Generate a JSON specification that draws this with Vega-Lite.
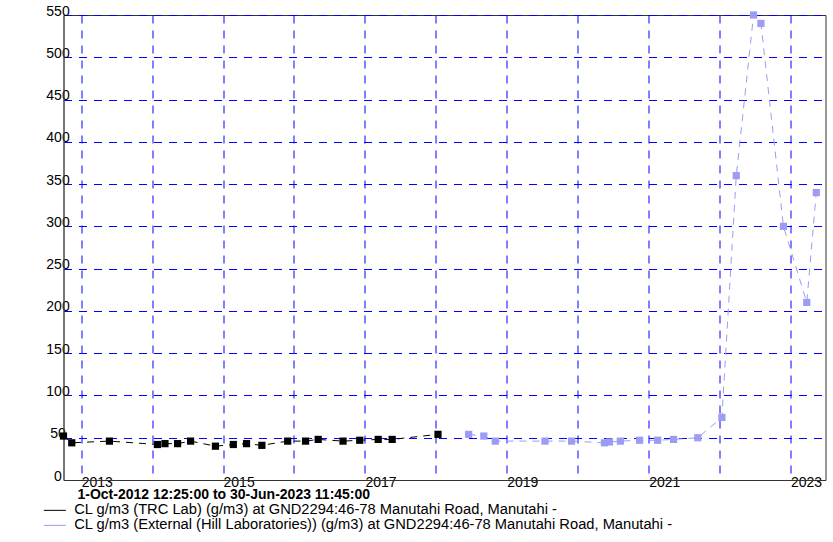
{
  "$schema": "https://vega.github.io/schema/vega-lite/v6.json",
  "width": 762,
  "height": 465,
  "autosize": {"type": "none"},
  "padding": {"left": 63.5, "top": 15, "right": 7.5, "bottom": 62},
  "background": "white",
  "config": {
    "font": "Liberation Sans",
    "view": {"stroke": "#333333", "strokeWidth": 1},
    "axis": {
      "gridColor": "#0000ff",
      "gridDash": [8, 7],
      "gridWidth": 1,
      "gridOpacity": 1,
      "ticks": false,
      "tickSize": 0,
      "domainColor": "#555555",
      "labelColor": "#000000",
      "labelFont": "Liberation Sans",
      "labelFontSize": 14
    }
  },
  "datasets": {
    "obs": [
      {"series": "CL g/m3 (TRC Lab) (g/m3) at GND2294:46-78 Manutahi Road, Manutahi -", "date": "2012-10-01T12:25:00", "value": 52},
      {"series": "CL g/m3 (TRC Lab) (g/m3) at GND2294:46-78 Manutahi Road, Manutahi -", "date": "2012-11-13", "value": 44},
      {"series": "CL g/m3 (TRC Lab) (g/m3) at GND2294:46-78 Manutahi Road, Manutahi -", "date": "2013-05-26", "value": 46},
      {"series": "CL g/m3 (TRC Lab) (g/m3) at GND2294:46-78 Manutahi Road, Manutahi -", "date": "2014-01-28", "value": 42},
      {"series": "CL g/m3 (TRC Lab) (g/m3) at GND2294:46-78 Manutahi Road, Manutahi -", "date": "2014-03-08", "value": 43},
      {"series": "CL g/m3 (TRC Lab) (g/m3) at GND2294:46-78 Manutahi Road, Manutahi -", "date": "2014-05-12", "value": 43},
      {"series": "CL g/m3 (TRC Lab) (g/m3) at GND2294:46-78 Manutahi Road, Manutahi -", "date": "2014-07-18", "value": 46},
      {"series": "CL g/m3 (TRC Lab) (g/m3) at GND2294:46-78 Manutahi Road, Manutahi -", "date": "2014-11-23", "value": 40},
      {"series": "CL g/m3 (TRC Lab) (g/m3) at GND2294:46-78 Manutahi Road, Manutahi -", "date": "2015-02-23", "value": 42},
      {"series": "CL g/m3 (TRC Lab) (g/m3) at GND2294:46-78 Manutahi Road, Manutahi -", "date": "2015-05-02", "value": 43},
      {"series": "CL g/m3 (TRC Lab) (g/m3) at GND2294:46-78 Manutahi Road, Manutahi -", "date": "2015-07-20", "value": 41},
      {"series": "CL g/m3 (TRC Lab) (g/m3) at GND2294:46-78 Manutahi Road, Manutahi -", "date": "2015-11-30", "value": 46},
      {"series": "CL g/m3 (TRC Lab) (g/m3) at GND2294:46-78 Manutahi Road, Manutahi -", "date": "2016-03-01", "value": 46},
      {"series": "CL g/m3 (TRC Lab) (g/m3) at GND2294:46-78 Manutahi Road, Manutahi -", "date": "2016-05-05", "value": 48},
      {"series": "CL g/m3 (TRC Lab) (g/m3) at GND2294:46-78 Manutahi Road, Manutahi -", "date": "2016-09-10", "value": 46},
      {"series": "CL g/m3 (TRC Lab) (g/m3) at GND2294:46-78 Manutahi Road, Manutahi -", "date": "2016-12-05", "value": 47},
      {"series": "CL g/m3 (TRC Lab) (g/m3) at GND2294:46-78 Manutahi Road, Manutahi -", "date": "2017-03-10", "value": 48},
      {"series": "CL g/m3 (TRC Lab) (g/m3) at GND2294:46-78 Manutahi Road, Manutahi -", "date": "2017-05-21", "value": 48},
      {"series": "CL g/m3 (TRC Lab) (g/m3) at GND2294:46-78 Manutahi Road, Manutahi -", "date": "2018-01-12", "value": 54},
      {"series": "CL g/m3 (External (Hill Laboratories)) (g/m3) at GND2294:46-78 Manutahi Road, Manutahi -", "date": "2018-06-19", "value": 54},
      {"series": "CL g/m3 (External (Hill Laboratories)) (g/m3) at GND2294:46-78 Manutahi Road, Manutahi -", "date": "2018-09-05", "value": 52},
      {"series": "CL g/m3 (External (Hill Laboratories)) (g/m3) at GND2294:46-78 Manutahi Road, Manutahi -", "date": "2018-11-03", "value": 46},
      {"series": "CL g/m3 (External (Hill Laboratories)) (g/m3) at GND2294:46-78 Manutahi Road, Manutahi -", "date": "2019-07-17", "value": 46},
      {"series": "CL g/m3 (External (Hill Laboratories)) (g/m3) at GND2294:46-78 Manutahi Road, Manutahi -", "date": "2019-12-01", "value": 46},
      {"series": "CL g/m3 (External (Hill Laboratories)) (g/m3) at GND2294:46-78 Manutahi Road, Manutahi -", "date": "2020-05-18", "value": 44},
      {"series": "CL g/m3 (External (Hill Laboratories)) (g/m3) at GND2294:46-78 Manutahi Road, Manutahi -", "date": "2020-06-13", "value": 45},
      {"series": "CL g/m3 (External (Hill Laboratories)) (g/m3) at GND2294:46-78 Manutahi Road, Manutahi -", "date": "2020-08-08", "value": 46},
      {"series": "CL g/m3 (External (Hill Laboratories)) (g/m3) at GND2294:46-78 Manutahi Road, Manutahi -", "date": "2020-11-15", "value": 47},
      {"series": "CL g/m3 (External (Hill Laboratories)) (g/m3) at GND2294:46-78 Manutahi Road, Manutahi -", "date": "2021-02-16", "value": 47},
      {"series": "CL g/m3 (External (Hill Laboratories)) (g/m3) at GND2294:46-78 Manutahi Road, Manutahi -", "date": "2021-05-09", "value": 48},
      {"series": "CL g/m3 (External (Hill Laboratories)) (g/m3) at GND2294:46-78 Manutahi Road, Manutahi -", "date": "2021-09-11", "value": 50},
      {"series": "CL g/m3 (External (Hill Laboratories)) (g/m3) at GND2294:46-78 Manutahi Road, Manutahi -", "date": "2022-01-13", "value": 74},
      {"series": "CL g/m3 (External (Hill Laboratories)) (g/m3) at GND2294:46-78 Manutahi Road, Manutahi -", "date": "2022-03-28", "value": 360},
      {"series": "CL g/m3 (External (Hill Laboratories)) (g/m3) at GND2294:46-78 Manutahi Road, Manutahi -", "date": "2022-06-25", "value": 550},
      {"series": "CL g/m3 (External (Hill Laboratories)) (g/m3) at GND2294:46-78 Manutahi Road, Manutahi -", "date": "2022-08-02", "value": 540},
      {"series": "CL g/m3 (External (Hill Laboratories)) (g/m3) at GND2294:46-78 Manutahi Road, Manutahi -", "date": "2022-11-26", "value": 300},
      {"series": "CL g/m3 (External (Hill Laboratories)) (g/m3) at GND2294:46-78 Manutahi Road, Manutahi -", "date": "2023-03-26", "value": 210},
      {"series": "CL g/m3 (External (Hill Laboratories)) (g/m3) at GND2294:46-78 Manutahi Road, Manutahi -", "date": "2023-05-14", "value": 340}
    ]
  },
  "data": {"name": "obs"},
  "encoding": {
    "x": {
      "field": "date",
      "type": "temporal",
      "scale": {"domain": ["2012-10-01T12:25:00", "2023-06-30T11:45:00"], "nice": false},
      "axis": {
        "values": ["2013-01-01T00:00:00", "2014-01-01T00:00:00", "2015-01-01T00:00:00", "2016-01-01T00:00:00", "2017-01-01T00:00:00", "2018-01-01T00:00:00", "2019-01-01T00:00:00", "2020-01-01T00:00:00", "2021-01-01T00:00:00", "2022-01-01T00:00:00", "2023-01-01T00:00:00"],
        "labelExpr": "year(datum.value) % 2 == 1 ? timeFormat(datum.value, '%Y') : ''",
        "labelAlign": "left",
        "labelBaseline": "middle",
        "labelPadding": 2,
        "labelFlush": false,
        "labelOverlap": false,
        "domainColor": "#333333",
        "title": "1-Oct-2012 12:25:00 to 30-Jun-2023 11:45:00",
        "titleFont": "Liberation Sans",
        "titleFontSize": 14,
        "titleFontWeight": "bold",
        "titleColor": "#000000",
        "titleAnchor": "start",
        "titleAlign": "left",
        "titleBaseline": "middle",
        "titleX": 13.5,
        "titleY": 14
      }
    },
    "y": {
      "field": "value",
      "type": "quantitative",
      "scale": {"domain": [0, 550], "nice": false, "zero": true},
      "axis": {
        "values": [0, 50, 100, 150, 200, 250, 300, 350, 400, 450, 500, 550],
        "labelAlign": "center",
        "labelBaseline": "middle",
        "labelPadding": 6,
        "labelOffset": -4,
        "labelFlush": false,
        "labelOverlap": false,
        "title": null
      }
    },
    "color": {
      "field": "series",
      "type": "nominal",
      "scale": {
        "domain": ["CL g/m3 (TRC Lab) (g/m3) at GND2294:46-78 Manutahi Road, Manutahi -", "CL g/m3 (External (Hill Laboratories)) (g/m3) at GND2294:46-78 Manutahi Road, Manutahi -"],
        "range": ["#000000", "#9c9cf2"]
      },
      "legend": {
        "title": null,
        "orient": "none",
        "legendX": -16,
        "legendY": 488,
        "symbolType": "M-3.67,0H3.67",
        "symbolSize": 36,
        "symbolStrokeWidth": 1,
        "labelFont": "Liberation Sans",
        "labelFontSize": 14.7,
        "labelColor": "#000000",
        "labelLimit": 900,
        "labelOffset": 12,
        "rowPadding": -6,
        "padding": 0
      }
    }
  },
  "layer": [
    {
      "mark": {"type": "line", "strokeWidth": 1, "strokeDash": [7, 6], "clip": false},
      "encoding": {}
    },
    {
      "mark": {"type": "point", "shape": "square", "filled": true, "size": 52, "opacity": 1, "clip": false},
      "encoding": {}
    }
  ]
}
